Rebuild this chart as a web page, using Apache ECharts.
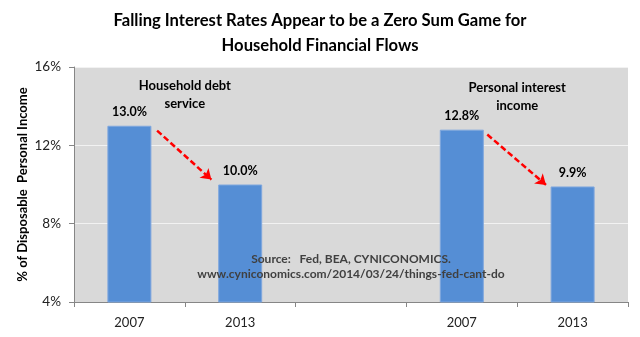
<!DOCTYPE html>
<html><head><meta charset="utf-8">
<script src="https://cdn.jsdelivr.net/npm/echarts@6/dist/echarts.min.js"></script>
<style>html,body{margin:0;padding:0;background:#fff}#c{width:640px;height:337px}</style>
</head><body><div id="c"></div>
<script>
const categories = ['2007', '2013', '', '2007', '2013'];
const values = [13.0, 10.0, null, 12.8, 9.9];
const valueLabels = ['13.0%', '10.0%', '', '12.8%', '9.9%'];
const yTickMin = 4, yTickMax = 16, yTickStep = 4;
const arrowStarts = [[0.25, 12.75], [3.23, 12.55]];
const arrowEnds = [[0.74, 10.25], [3.76, 9.98]];
const groupNames = [['Household debt', 'service'], ['Personal interest', 'income']];
const groupNamePos = [[0.5, 14.57], [3.5, 14.47]];
const sourceText = ['Source:   Fed, BEA, CYNICONOMICS.', 'www.cyniconomics.com/2014/03/24/things-fed-cant-do'];
const sourcePos = [2.0, 5.8];
const titleText = 'Falling Interest Rates Appear to be a Zero Sum Game for\nHousehold Financial Flows';
const yAxisName = '% of Disposable  Personal Income';

const FONT = 'Lato';
const chart = echarts.init(document.getElementById('c'), null, {renderer: 'canvas'});
chart.setOption({
  animation: false,
  textStyle: {fontFamily: FONT},
  title: {
    text: titleText, left: 'center', top: 3,
    textStyle: {fontFamily: FONT, fontSize: 16.6, fontWeight: 'bold', color: '#000', lineHeight: 25}
  },
  grid: {left: 74, right: 12, top: 67, bottom: 35, show: true, backgroundColor: '#d9d9d9', borderWidth: 0},
  xAxis: [{
    type: 'category', data: categories,
    axisLine: {lineStyle: {color: '#868686', width: 1}},
    axisTick: {show: true, length: 5, lineStyle: {color: '#868686'}},
    axisLabel: {fontSize: 13, color: '#222', margin: 14, fontFamily: FONT}
  }, {
    type: 'value', min: -0.5, max: 4.5, show: false
  }],
  yAxis: {
    type: 'value', min: yTickMin, max: yTickMax, interval: yTickStep,
    name: yAxisName, nameLocation: 'middle', nameGap: 45, nameRotate: 90, nameMoveOverlap: false,
    nameTextStyle: {fontSize: 13, fontWeight: 'bold', color: '#000', fontFamily: FONT},
    axisLine: {show: true, onZero: false, lineStyle: {color: '#868686'}},
    axisTick: {show: true, length: 5, lineStyle: {color: '#868686'}},
    axisLabel: {formatter: '{value}%', fontSize: 13.5, color: '#222', margin: 13, fontFamily: FONT},
    splitLine: {show: true, lineStyle: {color: '#f2f2f2', width: 1}}
  },
  series: [{
    type: 'bar', data: values, barWidth: 44,
    itemStyle: {color: '#558ED5', borderColor: '#7FA7DE', borderWidth: 1},
    label: {
      show: true, position: 'top', distance: 7,
      formatter: p => valueLabels[p.dataIndex],
      fontSize: 12.5, fontWeight: 'bold', color: '#000', fontFamily: FONT
    }
  }, {
    type: 'lines', coordinateSystem: 'cartesian2d', xAxisIndex: 1, yAxisIndex: 0,
    symbol: ['none', 'arrow'], symbolSize: 10,
    lineStyle: {color: '#ff0000', width: 2.5, type: [6, 3], opacity: 1},
    data: arrowStarts.map((s, i) => ({coords: [s, arrowEnds[i]]})),
    z: 5
  }]
});

const toPx = p => chart.convertToPixel({xAxisIndex: 1, yAxisIndex: 0}, p);
const graphics = [];
function addLines(lines, pos, size, color, lh) {
  const px = toPx(pos);
  const n = lines.length;
  lines.forEach((t, k) => {
    graphics.push({
      type: 'text', x: px[0], y: px[1] + (k - (n - 1) / 2) * lh, z: 10,
      style: {text: t, align: 'center', verticalAlign: 'middle', fontFamily: FONT,
              fontSize: size, fontWeight: 'bold', fill: color}
    });
  });
}
groupNames.forEach((g, i) => addLines(g, groupNamePos[i], 13, '#000', 18));
addLines(sourceText, sourcePos, 12, '#404040', 15);
chart.setOption({graphic: graphics});
</script></body></html>
